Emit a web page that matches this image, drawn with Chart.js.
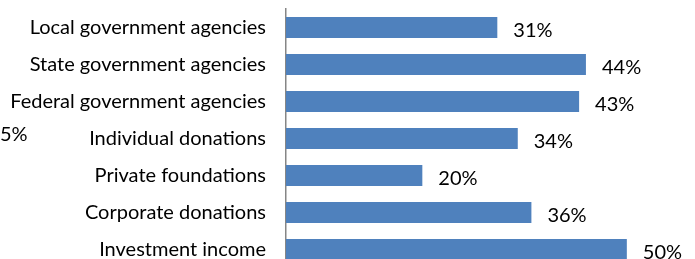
<!DOCTYPE html>
<html>
<head>
<meta charset="utf-8">
<script src="https://cdn.jsdelivr.net/npm/chart.js@4/dist/chart.umd.min.js"></script>
<style>
  html, body { margin: 0; padding: 0; background: #fff; overflow: hidden; }
  #wrap { position: relative; width: 695px; height: 268px; }
  #stray { position: absolute; left: 0; top: 121px; font: 20px Lato, sans-serif; color: #000; }
</style>
</head>
<body>
<div id="wrap">
  <canvas id="bar-chart"></canvas>
  <span id="stray">5%</span>
</div>
<script>
var categories = ["Local government agencies", "State government agencies", "Federal government agencies",
                  "Individual donations", "Private foundations", "Corporate donations", "Investment income"];
var values = [31, 44, 43, 34, 20, 36, 50];

// draws the "31%" style labels just past the end of each bar
var valueLabels = {
  id: 'valueLabels',
  afterDatasetsDraw: function(chart) {
    var ctx = chart.ctx;
    var meta = chart.getDatasetMeta(0);
    ctx.save();
    ctx.font = '20px Lato, sans-serif';
    ctx.fillStyle = '#000';
    ctx.textAlign = 'left';
    ctx.textBaseline = 'middle';
    meta.data.forEach(function(bar, i) {
      ctx.fillText(values[i] + '%', bar.x + 16, bar.y + 3);
    });
    ctx.restore();
  }
};

new Chart(document.getElementById("bar-chart"), {
  type: 'bar',
  data: {
    labels: categories,
    datasets: [
      {
        backgroundColor: "#4F81BD",
        data: values,
        categoryPercentage: 1,
        barPercentage: 0.57
      }
    ]
  },
  options: {
    indexAxis: 'y',
    responsive: true,
    maintainAspectRatio: false,
    animation: false,
    layout: { padding: { top: 9, right: 0, left: 0, bottom: 0 } },
    plugins: {
      legend: { display: false },
      tooltip: { enabled: false }
    },
    scales: {
      x: { display: false, min: 0, max: 60 },
      y: {
        grid: { display: false, drawTicks: false },
        border: { display: true, color: '#868686', width: 1.5 },
        ticks: { color: '#000', padding: 20, font: { family: 'Lato', size: 20 } },
        afterFit: function(scale) {
          scale.width = 286;
          scale.paddingTop = 0;
          scale.paddingBottom = 0;
        }
      }
    }
  },
  plugins: [valueLabels]
});
</script>
</body>
</html>
